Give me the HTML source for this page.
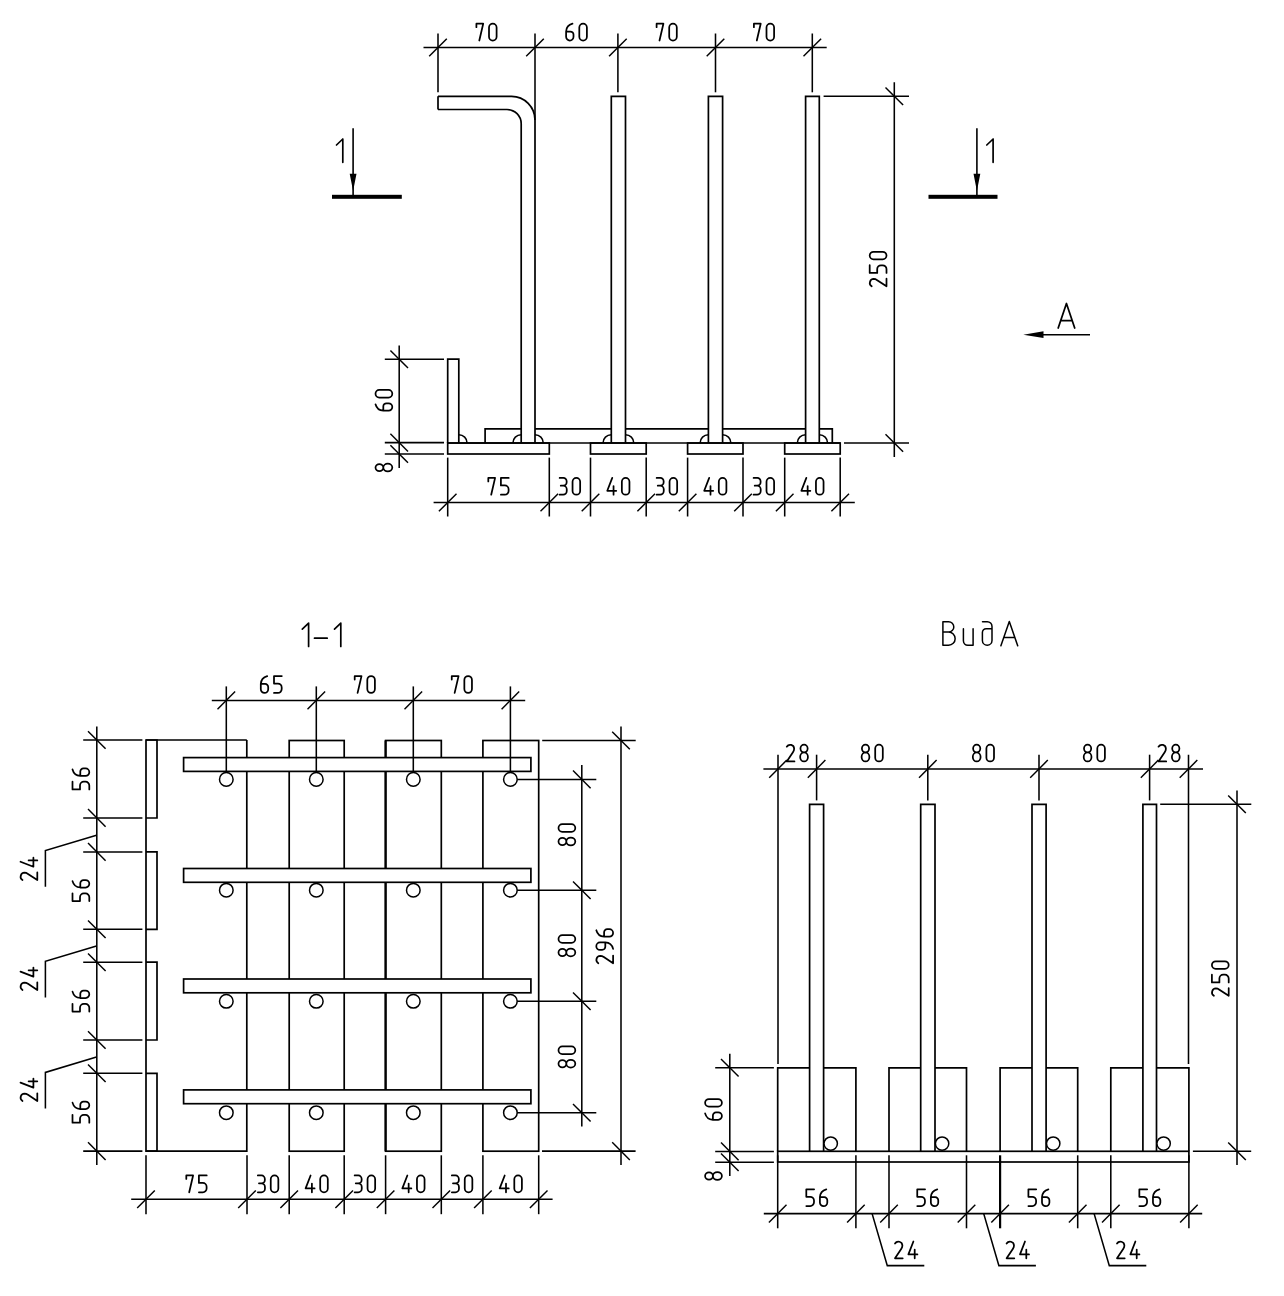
<!DOCTYPE html>
<html><head><meta charset="utf-8"><style>
html,body{margin:0;padding:0;background:#fff;width:1284px;height:1296px;overflow:hidden;font-family:"Liberation Sans",sans-serif}
svg{display:block}
</style></head><body>
<svg width="1284" height="1296" viewBox="0 0 1284 1296">
<rect width="1284" height="1296" fill="#fff"/>
<g stroke="#000" fill="none" stroke-linecap="butt">
<path d="M438,96.3H511.6A23.5,23.6 0 0 1 535,120V443M438,109.5H507A14.2,14.2 0 0 1 521.2,123.7V443M438,96.3V109.5" stroke-width="1.7" fill="none"/>
<path d="M611.3,443V96.3H625.5V443" stroke-width="1.7" fill="none"/>
<path d="M708.4,443V96.3H722.6V443" stroke-width="1.7" fill="none"/>
<path d="M805.6,443V96.3H819.3V443" stroke-width="1.7" fill="none"/>
<path d="M485.1,443V428.9H521.2M535,428.9H611.3M625.5,428.9H708.4M722.6,428.9H805.6M819.3,428.9H832.3V443" stroke-width="1.7" fill="none"/>
<path d="M447.7,443V359.2H458.8V443" stroke-width="1.7" fill="none"/>
<rect x="447.7" y="443" width="101.6" height="11" stroke-width="1.7" fill="none"/>
<rect x="590.5" y="443" width="55.7" height="11" stroke-width="1.7" fill="none"/>
<rect x="687.6" y="443" width="55.4" height="11" stroke-width="1.7" fill="none"/>
<rect x="784.7" y="443" width="55.5" height="11" stroke-width="1.7" fill="none"/>
<line x1="447.7" y1="443" x2="840.2" y2="443" stroke-width="1.7"/>
<path d="M458.8,434.7A8.3,8.3 0 0 1 467.1,443" stroke-width="1.5" fill="none"/>
<path d="M512.9000000000001,443A8.3,8.3 0 0 1 521.2,434.7" stroke-width="1.5" fill="none"/>
<path d="M535,434.7A8.3,8.3 0 0 1 543.3,443" stroke-width="1.5" fill="none"/>
<path d="M603.0,443A8.3,8.3 0 0 1 611.3,434.7" stroke-width="1.5" fill="none"/>
<path d="M625.5,434.7A8.3,8.3 0 0 1 633.8,443" stroke-width="1.5" fill="none"/>
<path d="M700.1,443A8.3,8.3 0 0 1 708.4,434.7" stroke-width="1.5" fill="none"/>
<path d="M722.6,434.7A8.3,8.3 0 0 1 730.9,443" stroke-width="1.5" fill="none"/>
<path d="M797.3000000000001,443A8.3,8.3 0 0 1 805.6,434.7" stroke-width="1.5" fill="none"/>
<path d="M819.3,434.7A8.3,8.3 0 0 1 827.5999999999999,443" stroke-width="1.5" fill="none"/>
<line x1="423.5" y1="47.5" x2="826.7" y2="47.5" stroke-width="1.55"/>
<line x1="438" y1="33.5" x2="438" y2="92.3" stroke-width="1.55"/>
<line x1="429.2" y1="56.3" x2="446.8" y2="38.7" stroke-width="1.45"/>
<line x1="617.9" y1="33.5" x2="617.9" y2="92.3" stroke-width="1.55"/>
<line x1="609.1" y1="56.3" x2="626.7" y2="38.7" stroke-width="1.45"/>
<line x1="715.5" y1="33.5" x2="715.5" y2="92.3" stroke-width="1.55"/>
<line x1="706.7" y1="56.3" x2="724.3" y2="38.7" stroke-width="1.45"/>
<line x1="812.3" y1="33.5" x2="812.3" y2="92.3" stroke-width="1.55"/>
<line x1="803.5" y1="56.3" x2="821.1" y2="38.7" stroke-width="1.45"/>
<line x1="535" y1="33.5" x2="535" y2="120" stroke-width="1.55"/>
<line x1="526.2" y1="56.3" x2="543.8" y2="38.7" stroke-width="1.45"/>
<g transform="translate(475.5,22.8)" stroke-width="1.75" fill="none" stroke-linecap="round" stroke-linejoin="round"><path transform="translate(0,0)" d="M0.9,4.4V0.9H7.7L3.8,17.7"/><path transform="translate(12.6,0)" d="M0.9,4.7A3.8,3.8 0 0 1 8.5,4.7V13.9A3.8,3.8 0 0 1 0.9,13.9Z"/></g>
<g transform="translate(565.2,22.8)" stroke-width="1.75" fill="none" stroke-linecap="round" stroke-linejoin="round"><path transform="translate(0,0)" d="M7.3,0.9A8.6,8.6 0 0 0 0.9,8.7V14A3.7,3.7 0 0 0 8.3,14V11.8A3.1,3.1 0 0 0 5.2,8.7H0.9"/><path transform="translate(13.2,0)" d="M0.9,4.7A3.8,3.8 0 0 1 8.5,4.7V13.9A3.8,3.8 0 0 1 0.9,13.9Z"/></g>
<g transform="translate(655.7,22.8)" stroke-width="1.75" fill="none" stroke-linecap="round" stroke-linejoin="round"><path transform="translate(0,0)" d="M0.9,4.4V0.9H7.7L3.8,17.7"/><path transform="translate(12.6,0)" d="M0.9,4.7A3.8,3.8 0 0 1 8.5,4.7V13.9A3.8,3.8 0 0 1 0.9,13.9Z"/></g>
<g transform="translate(753,22.8)" stroke-width="1.75" fill="none" stroke-linecap="round" stroke-linejoin="round"><path transform="translate(0,0)" d="M0.9,4.4V0.9H7.7L3.8,17.7"/><path transform="translate(12.6,0)" d="M0.9,4.7A3.8,3.8 0 0 1 8.5,4.7V13.9A3.8,3.8 0 0 1 0.9,13.9Z"/></g>
<line x1="823.6" y1="96.3" x2="909" y2="96.3" stroke-width="1.55"/>
<line x1="844" y1="443" x2="909" y2="443" stroke-width="1.55"/>
<line x1="894.3" y1="82.2" x2="894.3" y2="457" stroke-width="1.55"/>
<line x1="885.5" y1="87.5" x2="903.1" y2="105.1" stroke-width="1.45"/>
<line x1="885.5" y1="434.2" x2="903.1" y2="451.8" stroke-width="1.45"/>
<g transform="translate(868.8,287.35) rotate(-90)" stroke-width="1.75" fill="none" stroke-linecap="round" stroke-linejoin="round"><path transform="translate(0,0)" d="M1.0,2.9A4,4 0 0 1 8.4,4.9Q8.4,6.6 7.2,8.4L1.0,17.7H8.7"/><path transform="translate(13.5,0)" d="M8.7,0.9H0.9V8.4H4.8A3.8,3.8 0 0 1 8.6,12.2V13.9A3.8,3.8 0 0 1 4.8,17.7H0.9"/><path transform="translate(27.1,0)" d="M0.9,4.7A3.8,3.8 0 0 1 8.5,4.7V13.9A3.8,3.8 0 0 1 0.9,13.9Z"/></g>
<line x1="384.8" y1="359.2" x2="444" y2="359.2" stroke-width="1.55"/>
<line x1="390.4" y1="350.4" x2="408" y2="368" stroke-width="1.45"/>
<line x1="384.8" y1="442.6" x2="444" y2="442.6" stroke-width="1.55"/>
<line x1="390.4" y1="433.8" x2="408" y2="451.4" stroke-width="1.45"/>
<line x1="384.8" y1="454" x2="444" y2="454" stroke-width="1.55"/>
<line x1="390.4" y1="445.2" x2="408" y2="462.8" stroke-width="1.45"/>
<line x1="399.2" y1="345.6" x2="399.2" y2="468" stroke-width="1.55"/>
<g transform="translate(374.6,411.6) rotate(-90)" stroke-width="1.75" fill="none" stroke-linecap="round" stroke-linejoin="round"><path transform="translate(0,0)" d="M7.3,0.9A8.6,8.6 0 0 0 0.9,8.7V14A3.7,3.7 0 0 0 8.3,14V11.8A3.1,3.1 0 0 0 5.2,8.7H0.9"/><path transform="translate(13.2,0)" d="M0.9,4.7A3.8,3.8 0 0 1 8.5,4.7V13.9A3.8,3.8 0 0 1 0.9,13.9Z"/></g>
<g transform="translate(374.6,472.4) rotate(-90)" stroke-width="1.75" fill="none" stroke-linecap="round" stroke-linejoin="round"><path transform="translate(0,0)" d="M4.8,8.7A3.6,3.9 0 0 1 4.8,0.9A3.6,3.9 0 0 1 4.8,8.7ZM4.8,8.7A3.9,4.5 0 0 0 4.8,17.7A3.9,4.5 0 0 0 4.8,8.7Z"/></g>
<line x1="433.6" y1="502.5" x2="854.8" y2="502.5" stroke-width="1.55"/>
<line x1="447.7" y1="457.6" x2="447.7" y2="516.5" stroke-width="1.55"/>
<line x1="438.9" y1="511.3" x2="456.5" y2="493.7" stroke-width="1.45"/>
<line x1="549.3" y1="457.6" x2="549.3" y2="516.5" stroke-width="1.55"/>
<line x1="540.5" y1="511.3" x2="558.1" y2="493.7" stroke-width="1.45"/>
<line x1="590.5" y1="457.6" x2="590.5" y2="516.5" stroke-width="1.55"/>
<line x1="581.7" y1="511.3" x2="599.3" y2="493.7" stroke-width="1.45"/>
<line x1="646.2" y1="457.6" x2="646.2" y2="516.5" stroke-width="1.55"/>
<line x1="637.4" y1="511.3" x2="655" y2="493.7" stroke-width="1.45"/>
<line x1="687.6" y1="457.6" x2="687.6" y2="516.5" stroke-width="1.55"/>
<line x1="678.8" y1="511.3" x2="696.4" y2="493.7" stroke-width="1.45"/>
<line x1="743" y1="457.6" x2="743" y2="516.5" stroke-width="1.55"/>
<line x1="734.2" y1="511.3" x2="751.8" y2="493.7" stroke-width="1.45"/>
<line x1="784.7" y1="457.6" x2="784.7" y2="516.5" stroke-width="1.55"/>
<line x1="775.9" y1="511.3" x2="793.5" y2="493.7" stroke-width="1.45"/>
<line x1="840.2" y1="457.6" x2="840.2" y2="516.5" stroke-width="1.55"/>
<line x1="831.4" y1="511.3" x2="849" y2="493.7" stroke-width="1.45"/>
<g transform="translate(487.4,477)" stroke-width="1.75" fill="none" stroke-linecap="round" stroke-linejoin="round"><path transform="translate(0,0)" d="M0.9,4.4V0.9H7.7L3.8,17.7"/><path transform="translate(12.6,0)" d="M8.7,0.9H0.9V8.4H4.8A3.8,3.8 0 0 1 8.6,12.2V13.9A3.8,3.8 0 0 1 4.8,17.7H0.9"/></g>
<g transform="translate(558.75,477)" stroke-width="1.75" fill="none" stroke-linecap="round" stroke-linejoin="round"><path transform="translate(0,0)" d="M0.9,0.9H4.6A3.3,3.4 0 0 1 7.9,4.3V5.3A3.4,3.4 0 0 1 4.5,8.7H2.0M4.5,8.7A3.6,3.6 0 0 1 8.0,12.3V14.1A3.6,3.6 0 0 1 4.4,17.7H0.9"/><path transform="translate(12.9,0)" d="M0.9,4.7A3.8,3.8 0 0 1 8.5,4.7V13.9A3.8,3.8 0 0 1 0.9,13.9Z"/></g>
<g transform="translate(606.35,477)" stroke-width="1.75" fill="none" stroke-linecap="round" stroke-linejoin="round"><path transform="translate(0,0)" d="M5.9,0.9L0.9,13.8H9.9M7.2,9.0V17.7"/><path transform="translate(14.6,0)" d="M0.9,4.7A3.8,3.8 0 0 1 8.5,4.7V13.9A3.8,3.8 0 0 1 0.9,13.9Z"/></g>
<g transform="translate(655.75,477)" stroke-width="1.75" fill="none" stroke-linecap="round" stroke-linejoin="round"><path transform="translate(0,0)" d="M0.9,0.9H4.6A3.3,3.4 0 0 1 7.9,4.3V5.3A3.4,3.4 0 0 1 4.5,8.7H2.0M4.5,8.7A3.6,3.6 0 0 1 8.0,12.3V14.1A3.6,3.6 0 0 1 4.4,17.7H0.9"/><path transform="translate(12.9,0)" d="M0.9,4.7A3.8,3.8 0 0 1 8.5,4.7V13.9A3.8,3.8 0 0 1 0.9,13.9Z"/></g>
<g transform="translate(703.3,477)" stroke-width="1.75" fill="none" stroke-linecap="round" stroke-linejoin="round"><path transform="translate(0,0)" d="M5.9,0.9L0.9,13.8H9.9M7.2,9.0V17.7"/><path transform="translate(14.6,0)" d="M0.9,4.7A3.8,3.8 0 0 1 8.5,4.7V13.9A3.8,3.8 0 0 1 0.9,13.9Z"/></g>
<g transform="translate(752.7,477)" stroke-width="1.75" fill="none" stroke-linecap="round" stroke-linejoin="round"><path transform="translate(0,0)" d="M0.9,0.9H4.6A3.3,3.4 0 0 1 7.9,4.3V5.3A3.4,3.4 0 0 1 4.5,8.7H2.0M4.5,8.7A3.6,3.6 0 0 1 8.0,12.3V14.1A3.6,3.6 0 0 1 4.4,17.7H0.9"/><path transform="translate(12.9,0)" d="M0.9,4.7A3.8,3.8 0 0 1 8.5,4.7V13.9A3.8,3.8 0 0 1 0.9,13.9Z"/></g>
<g transform="translate(800.45,477)" stroke-width="1.75" fill="none" stroke-linecap="round" stroke-linejoin="round"><path transform="translate(0,0)" d="M5.9,0.9L0.9,13.8H9.9M7.2,9.0V17.7"/><path transform="translate(14.6,0)" d="M0.9,4.7A3.8,3.8 0 0 1 8.5,4.7V13.9A3.8,3.8 0 0 1 0.9,13.9Z"/></g>
<rect x="332" y="194.8" width="69.8" height="4" fill="#000" stroke="none"/>
<rect x="928.5" y="194.8" width="69" height="4" fill="#000" stroke="none"/>
<line x1="353.1" y1="128.3" x2="353.1" y2="195" stroke-width="1.6"/>
<line x1="976.9" y1="128.3" x2="976.9" y2="195" stroke-width="1.6"/>
<path d="M349.7,173.7H356.5L353.1,191Z M973.5,173.7H980.3L976.9,191Z" fill="#000" stroke="none"/>
<path transform="translate(335.6,138.1)" d="M0.9,6.9L7.2,0.9V24.2" stroke-width="1.7" fill="none" stroke-linecap="round" stroke-linejoin="round"/>
<path transform="translate(985.9,138.1)" d="M0.9,6.9L7.2,0.9V24.2" stroke-width="1.7" fill="none" stroke-linecap="round" stroke-linejoin="round"/>
<line x1="1036" y1="334.7" x2="1090" y2="334.7" stroke-width="1.6"/>
<path d="M1023.3,334.7L1043.5,331.3V338.1Z" fill="#000" stroke="none"/>
<path transform="translate(1057.3,302.6)" d="M0.9,25.4L9.15,0.9L17.4,25.4M3.4,18H14.9" stroke-width="1.75" fill="none" stroke-linecap="round" stroke-linejoin="round"/>
<path transform="translate(301.4,622.2)" d="M0.9,6.9L7.2,0.9V24.2" stroke-width="1.7" fill="none" stroke-linecap="round" stroke-linejoin="round"/>
<path transform="translate(313.6,622.2)" d="M0.9,16H13.6" stroke-width="1.7" fill="none" stroke-linecap="round" stroke-linejoin="round"/>
<path transform="translate(333.6,622.2)" d="M0.9,6.9L7.2,0.9V24.2" stroke-width="1.7" fill="none" stroke-linecap="round" stroke-linejoin="round"/>
<path d="M246.8,740V1151.2H146V740H246.8" stroke-width="1.7" fill="none"/>
<path d="M146,740H157V818H146" stroke-width="1.7" fill="none"/>
<path d="M146,851.9H157V929.3H146" stroke-width="1.7" fill="none"/>
<path d="M146,962.2H157V1040H146" stroke-width="1.7" fill="none"/>
<path d="M146,1073.3H157V1151.2H146" stroke-width="1.7" fill="none"/>
<rect x="289.2" y="740.5" width="55" height="410.7" stroke-width="1.7" fill="none"/>
<rect x="385.6" y="740.5" width="55.7" height="410.7" stroke-width="1.7" fill="none"/>
<rect x="482.9" y="740.5" width="55.8" height="410.7" stroke-width="1.7" fill="none"/>
<line x1="385.6" y1="740.5" x2="385.6" y2="1151.2" stroke-width="2.2"/>
<rect x="183.6" y="757.6" width="347.3" height="13.8" stroke-width="1.7" fill="#fff"/>
<rect x="183.6" y="868.5" width="347.3" height="13.8" stroke-width="1.7" fill="#fff"/>
<rect x="183.6" y="979" width="347.3" height="13.8" stroke-width="1.7" fill="#fff"/>
<rect x="183.6" y="1089.9" width="347.3" height="13.8" stroke-width="1.7" fill="#fff"/>
<circle cx="226.3" cy="779.4" r="6.8" stroke-width="1.5" fill="#fff"/>
<circle cx="316.3" cy="779.4" r="6.8" stroke-width="1.5" fill="#fff"/>
<circle cx="413.3" cy="779.4" r="6.8" stroke-width="1.5" fill="#fff"/>
<circle cx="510.4" cy="779.4" r="6.8" stroke-width="1.5" fill="#fff"/>
<circle cx="226.3" cy="890.2" r="6.8" stroke-width="1.5" fill="#fff"/>
<circle cx="316.3" cy="890.2" r="6.8" stroke-width="1.5" fill="#fff"/>
<circle cx="413.3" cy="890.2" r="6.8" stroke-width="1.5" fill="#fff"/>
<circle cx="510.4" cy="890.2" r="6.8" stroke-width="1.5" fill="#fff"/>
<circle cx="226.3" cy="1001.3" r="6.8" stroke-width="1.5" fill="#fff"/>
<circle cx="316.3" cy="1001.3" r="6.8" stroke-width="1.5" fill="#fff"/>
<circle cx="413.3" cy="1001.3" r="6.8" stroke-width="1.5" fill="#fff"/>
<circle cx="510.4" cy="1001.3" r="6.8" stroke-width="1.5" fill="#fff"/>
<circle cx="226.3" cy="1112.7" r="6.8" stroke-width="1.5" fill="#fff"/>
<circle cx="316.3" cy="1112.7" r="6.8" stroke-width="1.5" fill="#fff"/>
<circle cx="413.3" cy="1112.7" r="6.8" stroke-width="1.5" fill="#fff"/>
<circle cx="510.4" cy="1112.7" r="6.8" stroke-width="1.5" fill="#fff"/>
<line x1="211.8" y1="700.4" x2="525.2" y2="700.4" stroke-width="1.55"/>
<line x1="226.3" y1="686.4" x2="226.3" y2="772.6" stroke-width="1.55"/>
<line x1="217.5" y1="709.2" x2="235.1" y2="691.6" stroke-width="1.45"/>
<line x1="316.3" y1="686.4" x2="316.3" y2="772.6" stroke-width="1.55"/>
<line x1="307.5" y1="709.2" x2="325.1" y2="691.6" stroke-width="1.45"/>
<line x1="413.3" y1="686.4" x2="413.3" y2="772.6" stroke-width="1.55"/>
<line x1="404.5" y1="709.2" x2="422.1" y2="691.6" stroke-width="1.45"/>
<line x1="510.4" y1="686.4" x2="510.4" y2="772.6" stroke-width="1.55"/>
<line x1="501.6" y1="709.2" x2="519.2" y2="691.6" stroke-width="1.45"/>
<g transform="translate(259.9,675.2)" stroke-width="1.75" fill="none" stroke-linecap="round" stroke-linejoin="round"><path transform="translate(0,0)" d="M7.3,0.9A8.6,8.6 0 0 0 0.9,8.7V14A3.7,3.7 0 0 0 8.3,14V11.8A3.1,3.1 0 0 0 5.2,8.7H0.9"/><path transform="translate(13.2,0)" d="M8.7,0.9H0.9V8.4H4.8A3.8,3.8 0 0 1 8.6,12.2V13.9A3.8,3.8 0 0 1 4.8,17.7H0.9"/></g>
<g transform="translate(353.8,675.2)" stroke-width="1.75" fill="none" stroke-linecap="round" stroke-linejoin="round"><path transform="translate(0,0)" d="M0.9,4.4V0.9H7.7L3.8,17.7"/><path transform="translate(12.6,0)" d="M0.9,4.7A3.8,3.8 0 0 1 8.5,4.7V13.9A3.8,3.8 0 0 1 0.9,13.9Z"/></g>
<g transform="translate(450.85,675.2)" stroke-width="1.75" fill="none" stroke-linecap="round" stroke-linejoin="round"><path transform="translate(0,0)" d="M0.9,4.4V0.9H7.7L3.8,17.7"/><path transform="translate(12.6,0)" d="M0.9,4.7A3.8,3.8 0 0 1 8.5,4.7V13.9A3.8,3.8 0 0 1 0.9,13.9Z"/></g>
<line x1="96.8" y1="726.5" x2="96.8" y2="1165" stroke-width="1.55"/>
<line x1="83.2" y1="740" x2="142.4" y2="740" stroke-width="1.55"/>
<line x1="88" y1="731.2" x2="105.6" y2="748.8" stroke-width="1.45"/>
<line x1="83.2" y1="817.9" x2="142.4" y2="817.9" stroke-width="1.55"/>
<line x1="88" y1="809.1" x2="105.6" y2="826.7" stroke-width="1.45"/>
<line x1="83.2" y1="851.9" x2="142.4" y2="851.9" stroke-width="1.55"/>
<line x1="88" y1="843.1" x2="105.6" y2="860.7" stroke-width="1.45"/>
<line x1="83.2" y1="929.3" x2="142.4" y2="929.3" stroke-width="1.55"/>
<line x1="88" y1="920.5" x2="105.6" y2="938.1" stroke-width="1.45"/>
<line x1="83.2" y1="962.2" x2="142.4" y2="962.2" stroke-width="1.55"/>
<line x1="88" y1="953.4" x2="105.6" y2="971" stroke-width="1.45"/>
<line x1="83.2" y1="1040" x2="142.4" y2="1040" stroke-width="1.55"/>
<line x1="88" y1="1031.2" x2="105.6" y2="1048.8" stroke-width="1.45"/>
<line x1="83.2" y1="1073.2" x2="142.4" y2="1073.2" stroke-width="1.55"/>
<line x1="88" y1="1064.4" x2="105.6" y2="1082" stroke-width="1.45"/>
<line x1="83.2" y1="1151.1" x2="142.4" y2="1151.1" stroke-width="1.55"/>
<line x1="88" y1="1142.3" x2="105.6" y2="1159.9" stroke-width="1.45"/>
<g transform="translate(71.6,790.35) rotate(-90)" stroke-width="1.75" fill="none" stroke-linecap="round" stroke-linejoin="round"><path transform="translate(0,0)" d="M8.7,0.9H0.9V8.4H4.8A3.8,3.8 0 0 1 8.6,12.2V13.9A3.8,3.8 0 0 1 4.8,17.7H0.9"/><path transform="translate(13.6,0)" d="M7.3,0.9A8.6,8.6 0 0 0 0.9,8.7V14A3.7,3.7 0 0 0 8.3,14V11.8A3.1,3.1 0 0 0 5.2,8.7H0.9"/></g>
<g transform="translate(71.6,902) rotate(-90)" stroke-width="1.75" fill="none" stroke-linecap="round" stroke-linejoin="round"><path transform="translate(0,0)" d="M8.7,0.9H0.9V8.4H4.8A3.8,3.8 0 0 1 8.6,12.2V13.9A3.8,3.8 0 0 1 4.8,17.7H0.9"/><path transform="translate(13.6,0)" d="M7.3,0.9A8.6,8.6 0 0 0 0.9,8.7V14A3.7,3.7 0 0 0 8.3,14V11.8A3.1,3.1 0 0 0 5.2,8.7H0.9"/></g>
<g transform="translate(71.6,1012.5) rotate(-90)" stroke-width="1.75" fill="none" stroke-linecap="round" stroke-linejoin="round"><path transform="translate(0,0)" d="M8.7,0.9H0.9V8.4H4.8A3.8,3.8 0 0 1 8.6,12.2V13.9A3.8,3.8 0 0 1 4.8,17.7H0.9"/><path transform="translate(13.6,0)" d="M7.3,0.9A8.6,8.6 0 0 0 0.9,8.7V14A3.7,3.7 0 0 0 8.3,14V11.8A3.1,3.1 0 0 0 5.2,8.7H0.9"/></g>
<g transform="translate(71.6,1123.55) rotate(-90)" stroke-width="1.75" fill="none" stroke-linecap="round" stroke-linejoin="round"><path transform="translate(0,0)" d="M8.7,0.9H0.9V8.4H4.8A3.8,3.8 0 0 1 8.6,12.2V13.9A3.8,3.8 0 0 1 4.8,17.7H0.9"/><path transform="translate(13.6,0)" d="M7.3,0.9A8.6,8.6 0 0 0 0.9,8.7V14A3.7,3.7 0 0 0 8.3,14V11.8A3.1,3.1 0 0 0 5.2,8.7H0.9"/></g>
<path d="M96.5,835.2L45.4,850.6V886.7" stroke-width="1.55" fill="none"/>
<path d="M96.5,945.9L45.4,961.3V997.4" stroke-width="1.55" fill="none"/>
<path d="M96.5,1057L45.4,1072.4V1108.5" stroke-width="1.55" fill="none"/>
<g transform="translate(19.6,881.1) rotate(-90)" stroke-width="1.75" fill="none" stroke-linecap="round" stroke-linejoin="round"><path transform="translate(0,0)" d="M1.0,2.9A4,4 0 0 1 8.4,4.9Q8.4,6.6 7.2,8.4L1.0,17.7H8.7"/><path transform="translate(13.5,0)" d="M5.9,0.9L0.9,13.8H9.9M7.2,9.0V17.7"/></g>
<g transform="translate(19.6,991) rotate(-90)" stroke-width="1.75" fill="none" stroke-linecap="round" stroke-linejoin="round"><path transform="translate(0,0)" d="M1.0,2.9A4,4 0 0 1 8.4,4.9Q8.4,6.6 7.2,8.4L1.0,17.7H8.7"/><path transform="translate(13.5,0)" d="M5.9,0.9L0.9,13.8H9.9M7.2,9.0V17.7"/></g>
<g transform="translate(19.6,1102) rotate(-90)" stroke-width="1.75" fill="none" stroke-linecap="round" stroke-linejoin="round"><path transform="translate(0,0)" d="M1.0,2.9A4,4 0 0 1 8.4,4.9Q8.4,6.6 7.2,8.4L1.0,17.7H8.7"/><path transform="translate(13.5,0)" d="M5.9,0.9L0.9,13.8H9.9M7.2,9.0V17.7"/></g>
<line x1="517.2" y1="779.4" x2="596.3" y2="779.4" stroke-width="1.55"/>
<line x1="573" y1="770.6" x2="590.6" y2="788.2" stroke-width="1.45"/>
<line x1="517.2" y1="890.2" x2="596.3" y2="890.2" stroke-width="1.55"/>
<line x1="573" y1="881.4" x2="590.6" y2="899" stroke-width="1.45"/>
<line x1="517.2" y1="1001.3" x2="596.3" y2="1001.3" stroke-width="1.55"/>
<line x1="573" y1="992.5" x2="590.6" y2="1010.1" stroke-width="1.45"/>
<line x1="517.2" y1="1112.7" x2="596.3" y2="1112.7" stroke-width="1.55"/>
<line x1="573" y1="1103.9" x2="590.6" y2="1121.5" stroke-width="1.45"/>
<line x1="581.8" y1="765.1" x2="581.8" y2="1126.6" stroke-width="1.55"/>
<g transform="translate(557.6,846.3) rotate(-90)" stroke-width="1.75" fill="none" stroke-linecap="round" stroke-linejoin="round"><path transform="translate(0,0)" d="M4.8,8.7A3.6,3.9 0 0 1 4.8,0.9A3.6,3.9 0 0 1 4.8,8.7ZM4.8,8.7A3.9,4.5 0 0 0 4.8,17.7A3.9,4.5 0 0 0 4.8,8.7Z"/><path transform="translate(13.6,0)" d="M0.9,4.7A3.8,3.8 0 0 1 8.5,4.7V13.9A3.8,3.8 0 0 1 0.9,13.9Z"/></g>
<g transform="translate(557.6,957.25) rotate(-90)" stroke-width="1.75" fill="none" stroke-linecap="round" stroke-linejoin="round"><path transform="translate(0,0)" d="M4.8,8.7A3.6,3.9 0 0 1 4.8,0.9A3.6,3.9 0 0 1 4.8,8.7ZM4.8,8.7A3.9,4.5 0 0 0 4.8,17.7A3.9,4.5 0 0 0 4.8,8.7Z"/><path transform="translate(13.6,0)" d="M0.9,4.7A3.8,3.8 0 0 1 8.5,4.7V13.9A3.8,3.8 0 0 1 0.9,13.9Z"/></g>
<g transform="translate(557.6,1068.5) rotate(-90)" stroke-width="1.75" fill="none" stroke-linecap="round" stroke-linejoin="round"><path transform="translate(0,0)" d="M4.8,8.7A3.6,3.9 0 0 1 4.8,0.9A3.6,3.9 0 0 1 4.8,8.7ZM4.8,8.7A3.9,4.5 0 0 0 4.8,17.7A3.9,4.5 0 0 0 4.8,8.7Z"/><path transform="translate(13.6,0)" d="M0.9,4.7A3.8,3.8 0 0 1 8.5,4.7V13.9A3.8,3.8 0 0 1 0.9,13.9Z"/></g>
<line x1="542.2" y1="740.5" x2="635.7" y2="740.5" stroke-width="1.55"/>
<line x1="542" y1="1151.1" x2="635.6" y2="1151.1" stroke-width="1.55"/>
<line x1="621" y1="726.5" x2="621" y2="1165" stroke-width="1.55"/>
<line x1="612.2" y1="731.7" x2="629.8" y2="749.3" stroke-width="1.45"/>
<line x1="612.2" y1="1142.3" x2="629.8" y2="1159.9" stroke-width="1.45"/>
<g transform="translate(595.4,964.25) rotate(-90)" stroke-width="1.75" fill="none" stroke-linecap="round" stroke-linejoin="round"><path transform="translate(0,0)" d="M1.0,2.9A4,4 0 0 1 8.4,4.9Q8.4,6.6 7.2,8.4L1.0,17.7H8.7"/><path transform="translate(13.5,0)" d="M1.9,17.7A8.6,8.6 0 0 0 8.3,9.9V4.6A3.7,3.7 0 0 0 0.9,4.6V6.8A3.1,3.1 0 0 0 4.0,9.9H8.3"/><path transform="translate(26.7,0)" d="M7.3,0.9A8.6,8.6 0 0 0 0.9,8.7V14A3.7,3.7 0 0 0 8.3,14V11.8A3.1,3.1 0 0 0 5.2,8.7H0.9"/></g>
<line x1="131.2" y1="1199.3" x2="552.6" y2="1199.3" stroke-width="1.55"/>
<line x1="146" y1="1155.3" x2="146" y2="1214.2" stroke-width="1.55"/>
<line x1="137.2" y1="1208.1" x2="154.8" y2="1190.5" stroke-width="1.45"/>
<line x1="247" y1="1155.3" x2="247" y2="1214.2" stroke-width="1.55"/>
<line x1="238.2" y1="1208.1" x2="255.8" y2="1190.5" stroke-width="1.45"/>
<line x1="289.2" y1="1155.3" x2="289.2" y2="1214.2" stroke-width="1.55"/>
<line x1="280.4" y1="1208.1" x2="298" y2="1190.5" stroke-width="1.45"/>
<line x1="344.2" y1="1155.3" x2="344.2" y2="1214.2" stroke-width="1.55"/>
<line x1="335.4" y1="1208.1" x2="353" y2="1190.5" stroke-width="1.45"/>
<line x1="385.6" y1="1155.3" x2="385.6" y2="1214.2" stroke-width="1.55"/>
<line x1="376.8" y1="1208.1" x2="394.4" y2="1190.5" stroke-width="1.45"/>
<line x1="441.3" y1="1155.3" x2="441.3" y2="1214.2" stroke-width="1.55"/>
<line x1="432.5" y1="1208.1" x2="450.1" y2="1190.5" stroke-width="1.45"/>
<line x1="482.9" y1="1155.3" x2="482.9" y2="1214.2" stroke-width="1.55"/>
<line x1="474.1" y1="1208.1" x2="491.7" y2="1190.5" stroke-width="1.45"/>
<line x1="538.7" y1="1155.3" x2="538.7" y2="1214.2" stroke-width="1.55"/>
<line x1="529.9" y1="1208.1" x2="547.5" y2="1190.5" stroke-width="1.45"/>
<g transform="translate(185.4,1174.6)" stroke-width="1.75" fill="none" stroke-linecap="round" stroke-linejoin="round"><path transform="translate(0,0)" d="M0.9,4.4V0.9H7.7L3.8,17.7"/><path transform="translate(12.6,0)" d="M8.7,0.9H0.9V8.4H4.8A3.8,3.8 0 0 1 8.6,12.2V13.9A3.8,3.8 0 0 1 4.8,17.7H0.9"/></g>
<g transform="translate(256.95,1174.6)" stroke-width="1.75" fill="none" stroke-linecap="round" stroke-linejoin="round"><path transform="translate(0,0)" d="M0.9,0.9H4.6A3.3,3.4 0 0 1 7.9,4.3V5.3A3.4,3.4 0 0 1 4.5,8.7H2.0M4.5,8.7A3.6,3.6 0 0 1 8.0,12.3V14.1A3.6,3.6 0 0 1 4.4,17.7H0.9"/><path transform="translate(12.9,0)" d="M0.9,4.7A3.8,3.8 0 0 1 8.5,4.7V13.9A3.8,3.8 0 0 1 0.9,13.9Z"/></g>
<g transform="translate(304.7,1174.6)" stroke-width="1.75" fill="none" stroke-linecap="round" stroke-linejoin="round"><path transform="translate(0,0)" d="M5.9,0.9L0.9,13.8H9.9M7.2,9.0V17.7"/><path transform="translate(14.6,0)" d="M0.9,4.7A3.8,3.8 0 0 1 8.5,4.7V13.9A3.8,3.8 0 0 1 0.9,13.9Z"/></g>
<g transform="translate(353.75,1174.6)" stroke-width="1.75" fill="none" stroke-linecap="round" stroke-linejoin="round"><path transform="translate(0,0)" d="M0.9,0.9H4.6A3.3,3.4 0 0 1 7.9,4.3V5.3A3.4,3.4 0 0 1 4.5,8.7H2.0M4.5,8.7A3.6,3.6 0 0 1 8.0,12.3V14.1A3.6,3.6 0 0 1 4.4,17.7H0.9"/><path transform="translate(12.9,0)" d="M0.9,4.7A3.8,3.8 0 0 1 8.5,4.7V13.9A3.8,3.8 0 0 1 0.9,13.9Z"/></g>
<g transform="translate(401.45,1174.6)" stroke-width="1.75" fill="none" stroke-linecap="round" stroke-linejoin="round"><path transform="translate(0,0)" d="M5.9,0.9L0.9,13.8H9.9M7.2,9.0V17.7"/><path transform="translate(14.6,0)" d="M0.9,4.7A3.8,3.8 0 0 1 8.5,4.7V13.9A3.8,3.8 0 0 1 0.9,13.9Z"/></g>
<g transform="translate(450.95,1174.6)" stroke-width="1.75" fill="none" stroke-linecap="round" stroke-linejoin="round"><path transform="translate(0,0)" d="M0.9,0.9H4.6A3.3,3.4 0 0 1 7.9,4.3V5.3A3.4,3.4 0 0 1 4.5,8.7H2.0M4.5,8.7A3.6,3.6 0 0 1 8.0,12.3V14.1A3.6,3.6 0 0 1 4.4,17.7H0.9"/><path transform="translate(12.9,0)" d="M0.9,4.7A3.8,3.8 0 0 1 8.5,4.7V13.9A3.8,3.8 0 0 1 0.9,13.9Z"/></g>
<g transform="translate(498.8,1174.6)" stroke-width="1.75" fill="none" stroke-linecap="round" stroke-linejoin="round"><path transform="translate(0,0)" d="M5.9,0.9L0.9,13.8H9.9M7.2,9.0V17.7"/><path transform="translate(14.6,0)" d="M0.9,4.7A3.8,3.8 0 0 1 8.5,4.7V13.9A3.8,3.8 0 0 1 0.9,13.9Z"/></g>
<path transform="translate(942,620.8)" d="M0.9,0.9V24.4H6.6A6.55,6.55 0 0 0 6.6,11.3A5.2,5.2 0 0 0 6.6,0.9H0.9M0.9,11.3H6.6" stroke-width="1.5" fill="none" stroke-linecap="round" stroke-linejoin="round"/>
<path transform="translate(962.5,620.8)" d="M0.9,7.9V20A4.4,4.4 0 0 0 5.3,24.4H10.6M10.6,7.9V24.4" stroke-width="1.5" fill="none" stroke-linecap="round" stroke-linejoin="round"/>
<path transform="translate(980.9,620.8)" d="M1.6,0.9H6.4A4.7,4.7 0 0 1 11.1,5.6V19.6A4.8,4.8 0 0 1 1.5,19.6V11.6A3.7,3.7 0 0 1 5.2,7.9H11.1" stroke-width="1.5" fill="none" stroke-linecap="round" stroke-linejoin="round"/>
<path transform="translate(1000,620.5)" d="M0.9,25.3L9.3,0.9L17.7,25.3M3.8,17.1H14.8" stroke-width="1.5" fill="none" stroke-linecap="round" stroke-linejoin="round"/>
<path d="M809.6,1151.3V804.3H823.6V1151.3" stroke-width="1.7" fill="none"/>
<path d="M777.7,1151.3V1067.8H809.6M823.6,1067.8H855.9V1151.3" stroke-width="1.7" fill="none"/>
<path d="M920.7,1151.3V804.3H935V1151.3" stroke-width="1.7" fill="none"/>
<path d="M889,1151.3V1067.8H920.7M935,1067.8H966.5V1151.3" stroke-width="1.7" fill="none"/>
<path d="M1032,1151.3V804.3H1046.1V1151.3" stroke-width="1.7" fill="none"/>
<path d="M1000.1,1151.3V1067.8H1032M1046.1,1067.8H1077.7V1151.3" stroke-width="1.7" fill="none"/>
<path d="M1142.9,1151.3V804.3H1156.5V1151.3" stroke-width="1.7" fill="none"/>
<path d="M1110.8,1151.3V1067.8H1142.9M1156.5,1067.8H1188.9V1151.3" stroke-width="1.7" fill="none"/>
<rect x="777.7" y="1151.3" width="411.2" height="10.7" stroke-width="1.7" fill="none"/>
<circle cx="830.7" cy="1143.6" r="6.7" stroke-width="1.5" fill="#fff"/>
<circle cx="942.1" cy="1143.6" r="6.7" stroke-width="1.5" fill="#fff"/>
<circle cx="1053.2" cy="1143.6" r="6.7" stroke-width="1.5" fill="#fff"/>
<circle cx="1163.6" cy="1143.6" r="6.7" stroke-width="1.5" fill="#fff"/>
<line x1="763.4" y1="768.9" x2="1203" y2="768.9" stroke-width="1.55"/>
<line x1="816.6" y1="754.7" x2="816.6" y2="800.4" stroke-width="1.55"/>
<line x1="807.8" y1="777.7" x2="825.4" y2="760.1" stroke-width="1.45"/>
<line x1="927.8" y1="754.7" x2="927.8" y2="800.4" stroke-width="1.55"/>
<line x1="919" y1="777.7" x2="936.6" y2="760.1" stroke-width="1.45"/>
<line x1="1039" y1="754.7" x2="1039" y2="800.4" stroke-width="1.55"/>
<line x1="1030.2" y1="777.7" x2="1047.8" y2="760.1" stroke-width="1.45"/>
<line x1="1149.6" y1="754.7" x2="1149.6" y2="800.4" stroke-width="1.55"/>
<line x1="1140.8" y1="777.7" x2="1158.4" y2="760.1" stroke-width="1.45"/>
<line x1="778" y1="754.7" x2="778" y2="1064" stroke-width="1.55"/>
<line x1="769.2" y1="777.7" x2="786.8" y2="760.1" stroke-width="1.45"/>
<line x1="1188.5" y1="754.7" x2="1188.5" y2="1064" stroke-width="1.55"/>
<line x1="1179.7" y1="777.7" x2="1197.3" y2="760.1" stroke-width="1.45"/>
<g transform="translate(785.75,743.8)" stroke-width="1.75" fill="none" stroke-linecap="round" stroke-linejoin="round"><path transform="translate(0,0)" d="M1.0,2.9A4,4 0 0 1 8.4,4.9Q8.4,6.6 7.2,8.4L1.0,17.7H8.7"/><path transform="translate(13.5,0)" d="M4.8,8.7A3.6,3.9 0 0 1 4.8,0.9A3.6,3.9 0 0 1 4.8,8.7ZM4.8,8.7A3.9,4.5 0 0 0 4.8,17.7A3.9,4.5 0 0 0 4.8,8.7Z"/></g>
<g transform="translate(860.7,743.8)" stroke-width="1.75" fill="none" stroke-linecap="round" stroke-linejoin="round"><path transform="translate(0,0)" d="M4.8,8.7A3.6,3.9 0 0 1 4.8,0.9A3.6,3.9 0 0 1 4.8,8.7ZM4.8,8.7A3.9,4.5 0 0 0 4.8,17.7A3.9,4.5 0 0 0 4.8,8.7Z"/><path transform="translate(13.6,0)" d="M0.9,4.7A3.8,3.8 0 0 1 8.5,4.7V13.9A3.8,3.8 0 0 1 0.9,13.9Z"/></g>
<g transform="translate(971.9,743.8)" stroke-width="1.75" fill="none" stroke-linecap="round" stroke-linejoin="round"><path transform="translate(0,0)" d="M4.8,8.7A3.6,3.9 0 0 1 4.8,0.9A3.6,3.9 0 0 1 4.8,8.7ZM4.8,8.7A3.9,4.5 0 0 0 4.8,17.7A3.9,4.5 0 0 0 4.8,8.7Z"/><path transform="translate(13.6,0)" d="M0.9,4.7A3.8,3.8 0 0 1 8.5,4.7V13.9A3.8,3.8 0 0 1 0.9,13.9Z"/></g>
<g transform="translate(1082.8,743.8)" stroke-width="1.75" fill="none" stroke-linecap="round" stroke-linejoin="round"><path transform="translate(0,0)" d="M4.8,8.7A3.6,3.9 0 0 1 4.8,0.9A3.6,3.9 0 0 1 4.8,8.7ZM4.8,8.7A3.9,4.5 0 0 0 4.8,17.7A3.9,4.5 0 0 0 4.8,8.7Z"/><path transform="translate(13.6,0)" d="M0.9,4.7A3.8,3.8 0 0 1 8.5,4.7V13.9A3.8,3.8 0 0 1 0.9,13.9Z"/></g>
<g transform="translate(1157.5,743.8)" stroke-width="1.75" fill="none" stroke-linecap="round" stroke-linejoin="round"><path transform="translate(0,0)" d="M1.0,2.9A4,4 0 0 1 8.4,4.9Q8.4,6.6 7.2,8.4L1.0,17.7H8.7"/><path transform="translate(13.5,0)" d="M4.8,8.7A3.6,3.9 0 0 1 4.8,0.9A3.6,3.9 0 0 1 4.8,8.7ZM4.8,8.7A3.9,4.5 0 0 0 4.8,17.7A3.9,4.5 0 0 0 4.8,8.7Z"/></g>
<line x1="729.8" y1="1053.8" x2="729.8" y2="1176.1" stroke-width="1.55"/>
<line x1="715.2" y1="1067.8" x2="773.9" y2="1067.8" stroke-width="1.55"/>
<line x1="721" y1="1059" x2="738.6" y2="1076.6" stroke-width="1.45"/>
<line x1="715.2" y1="1151.4" x2="773.9" y2="1151.4" stroke-width="1.55"/>
<line x1="721" y1="1142.6" x2="738.6" y2="1160.2" stroke-width="1.45"/>
<line x1="715.2" y1="1162.2" x2="773.9" y2="1162.2" stroke-width="1.55"/>
<line x1="721" y1="1153.4" x2="738.6" y2="1171" stroke-width="1.45"/>
<g transform="translate(704.2,1120.7) rotate(-90)" stroke-width="1.75" fill="none" stroke-linecap="round" stroke-linejoin="round"><path transform="translate(0,0)" d="M7.3,0.9A8.6,8.6 0 0 0 0.9,8.7V14A3.7,3.7 0 0 0 8.3,14V11.8A3.1,3.1 0 0 0 5.2,8.7H0.9"/><path transform="translate(13.2,0)" d="M0.9,4.7A3.8,3.8 0 0 1 8.5,4.7V13.9A3.8,3.8 0 0 1 0.9,13.9Z"/></g>
<g transform="translate(704.2,1180.8) rotate(-90)" stroke-width="1.75" fill="none" stroke-linecap="round" stroke-linejoin="round"><path transform="translate(0,0)" d="M4.8,8.7A3.6,3.9 0 0 1 4.8,0.9A3.6,3.9 0 0 1 4.8,8.7ZM4.8,8.7A3.9,4.5 0 0 0 4.8,17.7A3.9,4.5 0 0 0 4.8,8.7Z"/></g>
<line x1="1160.2" y1="804.2" x2="1251.3" y2="804.2" stroke-width="1.55"/>
<line x1="1192.9" y1="1151.3" x2="1251.2" y2="1151.3" stroke-width="1.55"/>
<line x1="1237" y1="790.4" x2="1237" y2="1165" stroke-width="1.55"/>
<line x1="1228.2" y1="795.4" x2="1245.8" y2="813" stroke-width="1.45"/>
<line x1="1228.2" y1="1142.5" x2="1245.8" y2="1160.1" stroke-width="1.45"/>
<g transform="translate(1211,996.85) rotate(-90)" stroke-width="1.75" fill="none" stroke-linecap="round" stroke-linejoin="round"><path transform="translate(0,0)" d="M1.0,2.9A4,4 0 0 1 8.4,4.9Q8.4,6.6 7.2,8.4L1.0,17.7H8.7"/><path transform="translate(13.5,0)" d="M8.7,0.9H0.9V8.4H4.8A3.8,3.8 0 0 1 8.6,12.2V13.9A3.8,3.8 0 0 1 4.8,17.7H0.9"/><path transform="translate(27.1,0)" d="M0.9,4.7A3.8,3.8 0 0 1 8.5,4.7V13.9A3.8,3.8 0 0 1 0.9,13.9Z"/></g>
<line x1="763.8" y1="1213.6" x2="1202.2" y2="1213.6" stroke-width="1.55"/>
<line x1="777.7" y1="1155.3" x2="777.7" y2="1228.3" stroke-width="1.55"/>
<line x1="768.9" y1="1222.4" x2="786.5" y2="1204.8" stroke-width="1.45"/>
<line x1="855.9" y1="1155.3" x2="855.9" y2="1228.3" stroke-width="1.55"/>
<line x1="847.1" y1="1222.4" x2="864.7" y2="1204.8" stroke-width="1.45"/>
<line x1="889" y1="1155.3" x2="889" y2="1228.3" stroke-width="1.55"/>
<line x1="880.2" y1="1222.4" x2="897.8" y2="1204.8" stroke-width="1.45"/>
<line x1="966.5" y1="1155.3" x2="966.5" y2="1228.3" stroke-width="1.55"/>
<line x1="957.7" y1="1222.4" x2="975.3" y2="1204.8" stroke-width="1.45"/>
<line x1="1000.1" y1="1155.3" x2="1000.1" y2="1228.3" stroke-width="2.2"/>
<line x1="991.3" y1="1222.4" x2="1008.9" y2="1204.8" stroke-width="1.45"/>
<line x1="1077.7" y1="1155.3" x2="1077.7" y2="1228.3" stroke-width="1.55"/>
<line x1="1068.9" y1="1222.4" x2="1086.5" y2="1204.8" stroke-width="1.45"/>
<line x1="1110.8" y1="1155.3" x2="1110.8" y2="1228.3" stroke-width="1.55"/>
<line x1="1102" y1="1222.4" x2="1119.6" y2="1204.8" stroke-width="1.45"/>
<line x1="1188.9" y1="1155.3" x2="1188.9" y2="1228.3" stroke-width="1.55"/>
<line x1="1180.1" y1="1222.4" x2="1197.7" y2="1204.8" stroke-width="1.45"/>
<g transform="translate(805.4,1188.4)" stroke-width="1.75" fill="none" stroke-linecap="round" stroke-linejoin="round"><path transform="translate(0,0)" d="M8.7,0.9H0.9V8.4H4.8A3.8,3.8 0 0 1 8.6,12.2V13.9A3.8,3.8 0 0 1 4.8,17.7H0.9"/><path transform="translate(13.6,0)" d="M7.3,0.9A8.6,8.6 0 0 0 0.9,8.7V14A3.7,3.7 0 0 0 8.3,14V11.8A3.1,3.1 0 0 0 5.2,8.7H0.9"/></g>
<g transform="translate(916.35,1188.4)" stroke-width="1.75" fill="none" stroke-linecap="round" stroke-linejoin="round"><path transform="translate(0,0)" d="M8.7,0.9H0.9V8.4H4.8A3.8,3.8 0 0 1 8.6,12.2V13.9A3.8,3.8 0 0 1 4.8,17.7H0.9"/><path transform="translate(13.6,0)" d="M7.3,0.9A8.6,8.6 0 0 0 0.9,8.7V14A3.7,3.7 0 0 0 8.3,14V11.8A3.1,3.1 0 0 0 5.2,8.7H0.9"/></g>
<g transform="translate(1027.5,1188.4)" stroke-width="1.75" fill="none" stroke-linecap="round" stroke-linejoin="round"><path transform="translate(0,0)" d="M8.7,0.9H0.9V8.4H4.8A3.8,3.8 0 0 1 8.6,12.2V13.9A3.8,3.8 0 0 1 4.8,17.7H0.9"/><path transform="translate(13.6,0)" d="M7.3,0.9A8.6,8.6 0 0 0 0.9,8.7V14A3.7,3.7 0 0 0 8.3,14V11.8A3.1,3.1 0 0 0 5.2,8.7H0.9"/></g>
<g transform="translate(1138.45,1188.4)" stroke-width="1.75" fill="none" stroke-linecap="round" stroke-linejoin="round"><path transform="translate(0,0)" d="M8.7,0.9H0.9V8.4H4.8A3.8,3.8 0 0 1 8.6,12.2V13.9A3.8,3.8 0 0 1 4.8,17.7H0.9"/><path transform="translate(13.6,0)" d="M7.3,0.9A8.6,8.6 0 0 0 0.9,8.7V14A3.7,3.7 0 0 0 8.3,14V11.8A3.1,3.1 0 0 0 5.2,8.7H0.9"/></g>
<path d="M872.1,1213.6L887.3000000000001,1265.6H924.3000000000001" stroke-width="1.55" fill="none"/>
<g transform="translate(894,1240.6)" stroke-width="1.75" fill="none" stroke-linecap="round" stroke-linejoin="round"><path transform="translate(0,0)" d="M1.0,2.9A4,4 0 0 1 8.4,4.9Q8.4,6.6 7.2,8.4L1.0,17.7H8.7"/><path transform="translate(13.5,0)" d="M5.9,0.9L0.9,13.8H9.9M7.2,9.0V17.7"/></g>
<path d="M983.7,1213.6L998.9000000000001,1265.6H1035.9" stroke-width="1.55" fill="none"/>
<g transform="translate(1005.6,1240.6)" stroke-width="1.75" fill="none" stroke-linecap="round" stroke-linejoin="round"><path transform="translate(0,0)" d="M1.0,2.9A4,4 0 0 1 8.4,4.9Q8.4,6.6 7.2,8.4L1.0,17.7H8.7"/><path transform="translate(13.5,0)" d="M5.9,0.9L0.9,13.8H9.9M7.2,9.0V17.7"/></g>
<path d="M1094.1,1213.6L1109.3,1265.6H1146.3" stroke-width="1.55" fill="none"/>
<g transform="translate(1116,1240.6)" stroke-width="1.75" fill="none" stroke-linecap="round" stroke-linejoin="round"><path transform="translate(0,0)" d="M1.0,2.9A4,4 0 0 1 8.4,4.9Q8.4,6.6 7.2,8.4L1.0,17.7H8.7"/><path transform="translate(13.5,0)" d="M5.9,0.9L0.9,13.8H9.9M7.2,9.0V17.7"/></g>
</g>
</svg>
</body></html>
